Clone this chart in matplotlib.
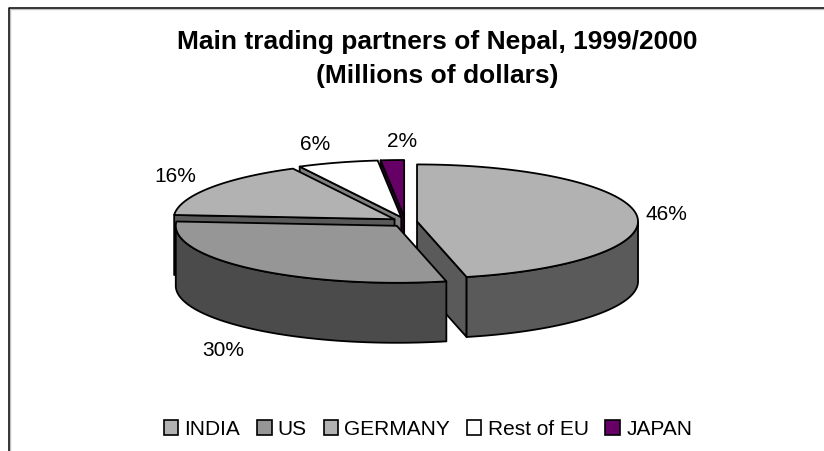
import numpy as np
import matplotlib
matplotlib.use("Agg")
import matplotlib.pyplot as plt
from matplotlib.patches import Polygon, Rectangle

plt.rcParams['font.family'] = ['Liberation Sans', 'DejaVu Sans']

# data
partners = ['INDIA', 'US', 'GERMANY', 'Rest of EU', 'JAPAN']
shares = [46.4, 29.8, 16.2, 5.9, 1.7]
top_colors = ['#B2B2B2', '#969696', '#B2B2B2', '#FFFFFF', '#660066']
side_colors = ['#5A5A5A', '#4B4B4B', '#5A5A5A', '#808080', '#330033']
label_pos = [(666, 215), (223, 351), (175, 177), (315, 145), (402, 142)]

# pie geometry, pixels
cx, cy = 404.8, 223.0
rx, ry = 221.0, 57.0
depth = 60
explode_x, explode_y = 12.3, 5.0
edge = dict(edgecolor='black', linewidth=1.3, joinstyle='round')

fig = plt.figure(figsize=(8.24, 4.52), dpi=100)
ax = fig.add_axes([0, 0, 1, 1])
ax.set_xlim(0, 824)
ax.set_ylim(452, 0)
ax.axis('off')

# chart frame, runs off the crop on the right and bottom
ax.plot([10, 10, 824], [452, 10, 10], color='#C0C0C0', lw=1.0)
ax.plot([9, 9, 824], [452, 9, 9], color='black', lw=1.1)

ax.text(437, 42, 'Main trading partners of Nepal, 1999/2000', ha='center', va='center',
        fontsize=19, fontweight='bold')
ax.text(437, 76, '(Millions of dollars)', ha='center', va='center',
        fontsize=19, fontweight='bold')


def pt(t, ox, oy):
    t = np.radians(t)
    return ox + rx * np.sin(t), oy - ry * np.cos(t)


fracs = np.array(shares) / sum(shares) * 360
starts = np.concatenate([[0], np.cumsum(fracs)[:-1]])

# painter's order, back to front
for i in [4, 3, 2, 0, 1]:
    a0, a1 = starts[i], starts[i] + fracs[i]
    mid = np.radians((a0 + a1) / 2)
    ox = cx + explode_x * np.sin(mid)
    oy = cy - explode_y * np.cos(mid)

    # cut faces that look toward the viewer
    if np.sin(np.radians(a0)) < -1e-6:
        x, y = pt(a0, ox, oy)
        ax.add_patch(Polygon([(ox, oy), (x, y), (x, y + depth), (ox, oy + depth)],
                             facecolor=side_colors[i], **edge))
    if np.sin(np.radians(a1)) > 1e-6:
        x, y = pt(a1, ox, oy)
        ax.add_patch(Polygon([(ox, oy), (x, y), (x, y + depth), (ox, oy + depth)],
                             facecolor=side_colors[i], **edge))

    # outer wall, front half only
    w0, w1 = max(a0, 90), min(a1, 270)
    if w1 > w0:
        t = np.linspace(w0, w1, 80)
        x, y = pt(t, ox, oy)
        wall = np.r_[np.c_[x, y], np.c_[x[::-1], y[::-1] + depth]]
        ax.add_patch(Polygon(wall, facecolor=side_colors[i], **edge))

    # top face
    t = np.linspace(a0, a1, 80)
    x, y = pt(t, ox, oy)
    ax.add_patch(Polygon(np.r_[[(ox, oy)], np.c_[x, y]], facecolor=top_colors[i], **edge))

for s, (lx, ly) in zip(shares, label_pos):
    ax.text(lx, ly, f'{round(s)}%', ha='center', va='center', fontsize=15)

handles = [Rectangle((0, 0), 1, 1, facecolor=c, edgecolor='black', linewidth=1.2) for c in top_colors]
ax.legend(handles, partners, loc='center', bbox_to_anchor=(428 / 824, 1 - 430 / 452), ncol=5,
          frameon=False, fontsize=15, handlelength=0.7, handleheight=0.7,
          handletextpad=0.3, columnspacing=0.8, borderpad=0)

fig.savefig('out.png', dpi=100)
